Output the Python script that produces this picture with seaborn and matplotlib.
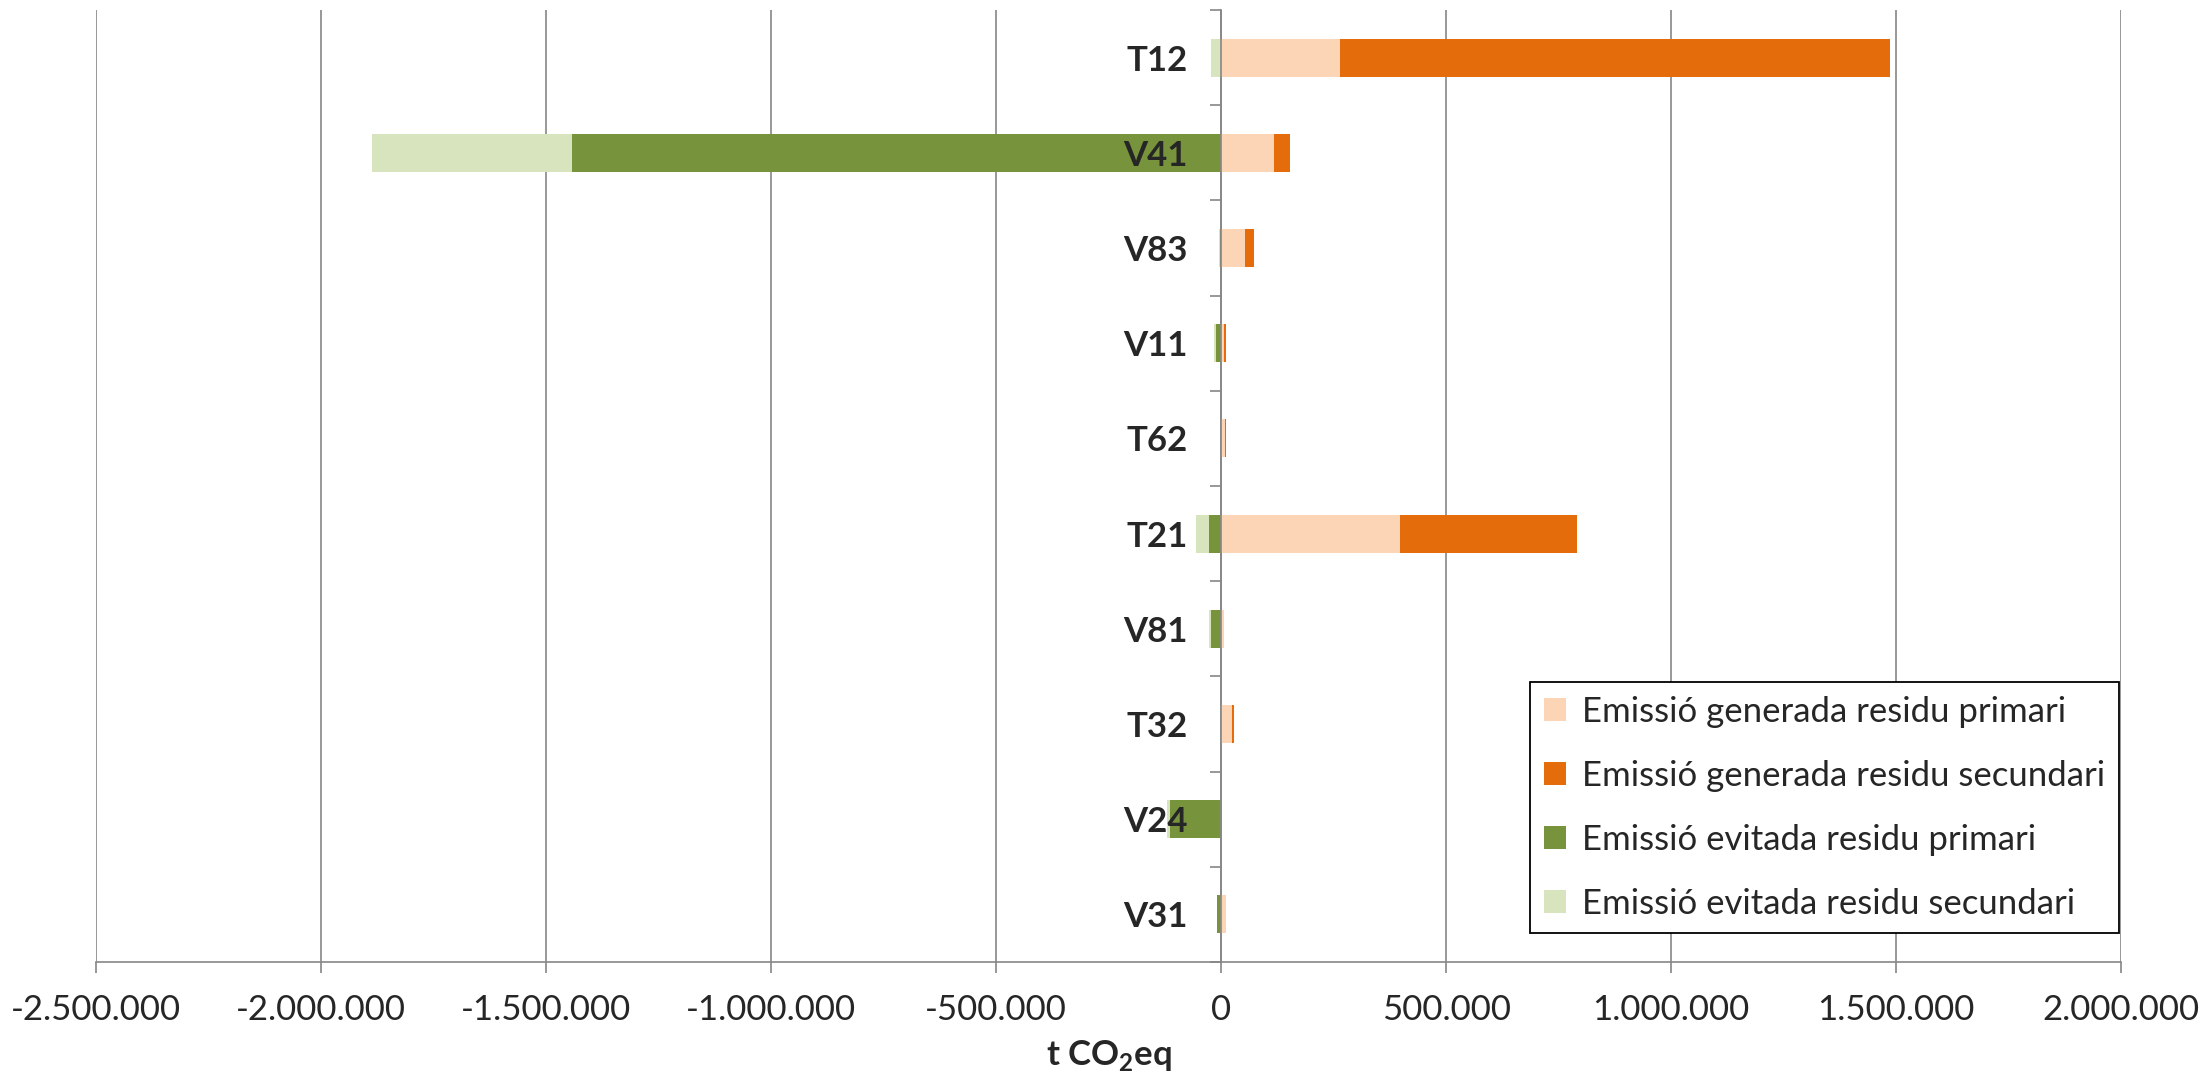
import matplotlib
matplotlib.use("Agg")
import matplotlib.pyplot as plt
from matplotlib.patches import Patch
from matplotlib.ticker import FixedLocator
import numpy as np
import pandas as pd
import seaborn as sns

# Categories (top to bottom)
categories = ["T12", "V41", "V83", "V11", "T62", "T21", "V81", "T32", "V24", "V31"]

# Emissions in t CO2eq
gen_primary = [263000, 118000, 52000, 7000, 8000, 397000, 6000, 25000, 0, 11000]
gen_secondary = [1223000, 35000, 21000, 3000, 3000, 394000, 0, 3000, 0, 0]
avoided_primary = [0, -1443000, -3000, -11000, 0, -26000, -22000, 0, -114000, -10000]
avoided_secondary = [-22000, -444000, -1000, -4000, 0, -29000, -4000, 0, -6000, 0]

x_ticks = [-2500000, -2000000, -1500000, -1000000, -500000, 0, 500000, 1000000, 1500000, 2000000]

series_names = [
    "Emissió generada residu primari",
    "Emissió generada residu secundari",
    "Emissió evitada residu primari",
    "Emissió evitada residu secundari",
]
colors = ["#FBD5B5", "#E46C0A", "#77933C", "#D7E4BD"]

sns.set_style("white")
plt.rcParams["font.family"] = ["Lato", "DejaVu Sans"]
plt.rcParams["mathtext.fontset"] = "custom"
plt.rcParams["mathtext.rm"] = "Lato"
plt.rcParams["mathtext.bf"] = "Lato:bold"

df = pd.DataFrame({
    "cat": categories,
    "gp": gen_primary,
    "gs": gen_secondary,
    "ap": avoided_primary,
    "as": avoided_secondary,
})
# cumulative extents for the stacked segments
df["pos_total"] = df["gp"] + df["gs"]
df["neg_total"] = df["ap"] + df["as"]

fig = plt.figure(figsize=(22.11, 10.85), dpi=100)
ax = fig.add_axes([0.0436, 0.1134, 0.9157, 0.8774])

bar_w = 0.4
common = dict(data=df, y="cat", orient="h", order=categories, width=bar_w,
              errorbar=None, ax=ax, linewidth=0, saturation=1)
sns.barplot(x="pos_total", color=colors[1], **common)
sns.barplot(x="gp", color=colors[0], **common)
sns.barplot(x="neg_total", color=colors[3], **common)
sns.barplot(x="ap", color=colors[2], **common)

grid_c = "#868686"
ax.set_xlim(-2500000, 2000000)
ax.set_ylim(len(categories) - 0.5, -0.5)
ax.set_xticks(x_ticks)
ax.set_xticklabels([f"{v:,.0f}".replace(",", ".") for v in x_ticks])
ax.grid(axis="x", color=grid_c, linewidth=1.2)
ax.grid(axis="y", visible=False)

for s in ["top", "right"]:
    ax.spines[s].set_visible(False)
ax.spines["left"].set_position(("data", 0))
ax.spines["left"].set_color(grid_c)
ax.spines["left"].set_linewidth(1.2)
ax.spines["bottom"].set_color(grid_c)
ax.spines["bottom"].set_linewidth(1.2)

# category separators as outward ticks on the vertical axis
ax.yaxis.set_minor_locator(FixedLocator(np.arange(-0.5, len(categories), 1.0)))
ax.tick_params(axis="y", which="minor", left=True, length=8, width=1.2, color=grid_c, direction="out")
ax.tick_params(axis="y", which="major", left=True, length=0, pad=24, labelsize=25)
for lbl in ax.get_yticklabels():
    lbl.set_fontweight("bold")
ax.tick_params(axis="x", which="major", bottom=True, length=8, width=1.2, color=grid_c,
               direction="out", pad=15, labelsize=25)

ax.set_ylabel("")
ax.set_xlabel(r"t CO$_\mathbf{2}$eq", fontsize=25, fontweight="bold", labelpad=9)

# gridlines below bars, category labels above them
ax.xaxis.set_zorder(0.5)
ax.yaxis.set_zorder(3)

handles = [Patch(facecolor=c, edgecolor="none") for c in colors]
leg = ax.legend(handles, series_names, loc="lower right", bbox_to_anchor=(0.999, 0.03),
                borderaxespad=0, fontsize=25, frameon=True, fancybox=False,
                edgecolor="black", framealpha=1, handlelength=0.65, handleheight=0.65,
                handletextpad=0.45, labelspacing=0.92, borderpad=0.4)
leg.get_frame().set_linewidth(1.3)

fig.savefig("out.png", dpi=100)
